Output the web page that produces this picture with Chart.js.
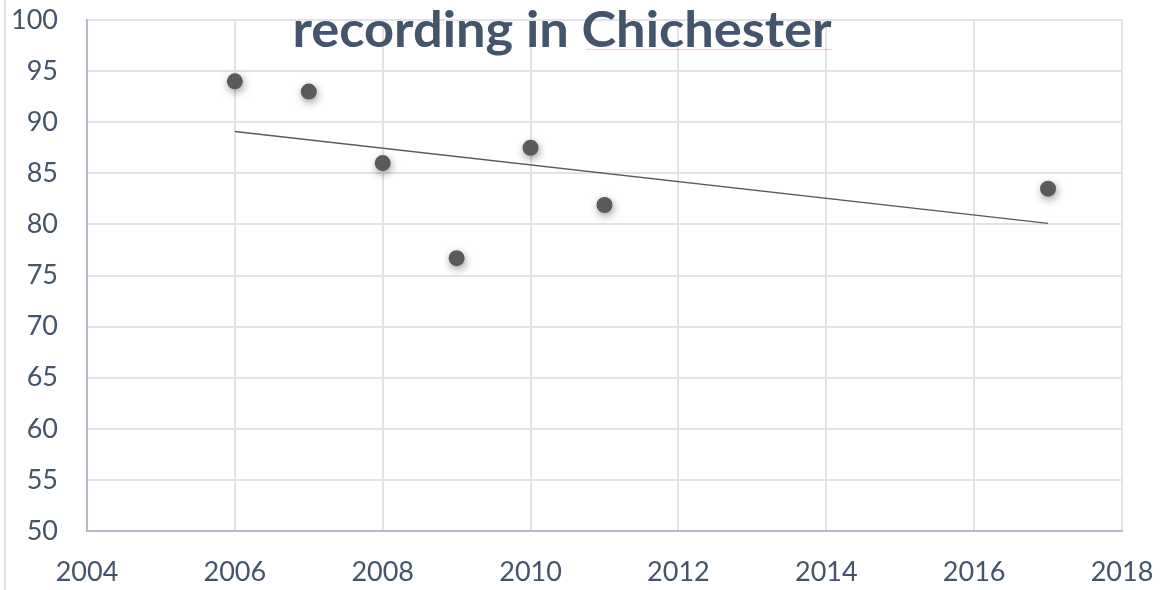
<!DOCTYPE html>
<html>
<head>
<meta charset="utf-8">
<script src="https://cdn.jsdelivr.net/npm/chart.js@4.4.1/dist/chart.umd.min.js"></script>
<style>
  html, body { margin: 0; padding: 0; background: #ffffff; }
  #wrap { position: relative; width: 1160px; height: 590px; }
  canvas { display: block; }
</style>
</head>
<body>
<div id="wrap"><canvas id="c" width="1160" height="590"></canvas></div>
<script>
// ---- data ----
const titleText = "recording in Chichester";
const years = [2006, 2007, 2008, 2009, 2010, 2011, 2017];
const values = [94.0, 93.0, 86.0, 76.7, 87.5, 81.9, 83.5];
const trendYears = [2006, 2017];
const trendValues = [89.1, 80.1];
const xTickLabels = [2004, 2006, 2008, 2010, 2012, 2014, 2016, 2018];
const yTickLabels = [50, 55, 60, 65, 70, 75, 80, 85, 90, 95, 100];

const pointData = years.map((y, i) => ({ x: y, y: values[i] }));
const trendData = trendYears.map((y, i) => ({ x: y, y: trendValues[i] }));

const TXT = '#44546A';
const GRID = '#e0e4ea';
const AXIS = '#b3bccb';

const decorPlugin = {
  id: 'decor',
  beforeDraw(chart) {
    const ctx = chart.ctx;
    ctx.save();
    ctx.fillStyle = '#dde1e8';
    ctx.fillRect(4, 0, 2, chart.height);
    ctx.restore();
  },
  beforeDatasetsDraw(chart) {
    const ctx = chart.ctx;
    ctx.save();
    const size = 50;
    ctx.font = 'bold ' + size + 'px Lato';
    const w = ctx.measureText(titleText).width;
    const sx = 539 / w;
    const cx = 562;
    ctx.fillStyle = TXT;
    ctx.textAlign = 'center';
    ctx.textBaseline = 'alphabetic';
    ctx.translate(cx, 0);
    ctx.scale(sx, 1);
    ctx.fillText(titleText, 0, 47);
    ctx.restore();
    // faint spell-check squiggle under "Chichester"
    ctx.save();
    ctx.strokeStyle = 'rgba(240,120,120,0.45)';
    ctx.lineWidth = 1;
    ctx.beginPath();
    for (let x = 586; x <= 832; x += 2) {
      const yy = 49 + ((x / 2) % 2 === 0 ? 0 : 1);
      if (x === 586) ctx.moveTo(x, yy); else ctx.lineTo(x, yy);
    }
    ctx.stroke();
    ctx.restore();
  },
  beforeDatasetDraw(chart, args) {
    if (args.index === 1) {
      const ctx = chart.ctx;
      ctx.save();
      ctx.shadowColor = 'rgba(0,0,0,0.4)';
      ctx.shadowBlur = 8;
      ctx.shadowOffsetX = 1;
      ctx.shadowOffsetY = 3;
    }
  },
  afterDatasetDraw(chart, args) {
    if (args.index === 1) chart.ctx.restore();
  }
};

new Chart(document.getElementById('c'), {
  type: 'scatter',
  data: {
    datasets: [
      {
        label: 'Trend',
        data: trendData,
        showLine: true,
        borderColor: '#595959',
        borderWidth: 1.5,
        pointRadius: 0,
        pointHoverRadius: 0,
        fill: false
      },
      {
        label: 'Recording',
        data: pointData,
        backgroundColor: '#5a5a5a',
        borderColor: '#5a5a5a',
        borderWidth: 0,
        pointRadius: 8,
        pointHoverRadius: 8
      }
    ]
  },
  options: {
    responsive: false,
    animation: false,
    devicePixelRatio: 1,
    layout: { padding: { top: 20, right: 38, left: 0, bottom: 0 } },
    plugins: {
      legend: { display: false },
      title: { display: false },
      tooltip: { enabled: false }
    },
    scales: {
      x: {
        type: 'linear',
        min: xTickLabels[0],
        max: xTickLabels[xTickLabels.length - 1],
        afterBuildTicks(scale) { scale.ticks = xTickLabels.map(v => ({ value: v })); },
        afterFit(scale) { scale.height = 59; },
        ticks: {
          color: TXT,
          font: { family: 'Lato', size: 27 },
          padding: 0,
          maxRotation: 0,
          autoSkip: false,
          callback: v => String(v)
        },
        grid: { color: GRID, lineWidth: 2, drawTicks: true, tickLength: 25, tickColor: 'rgba(0,0,0,0)' },
        border: { color: AXIS, width: 2 }
      },
      y: {
        min: yTickLabels[0],
        max: yTickLabels[yTickLabels.length - 1],
        afterBuildTicks(scale) { scale.ticks = yTickLabels.map(v => ({ value: v })); },
        afterFit(scale) { scale.width = 87; },
        ticks: {
          color: TXT,
          font: { family: 'Lato', size: 27 },
          padding: 0,
          autoSkip: false,
          callback: v => String(v)
        },
        grid: { color: GRID, lineWidth: 2, drawTicks: true, tickLength: 29, tickColor: 'rgba(0,0,0,0)' },
        border: { color: AXIS, width: 2 }
      }
    }
  },
  plugins: [decorPlugin]
});
</script>
</body>
</html>
